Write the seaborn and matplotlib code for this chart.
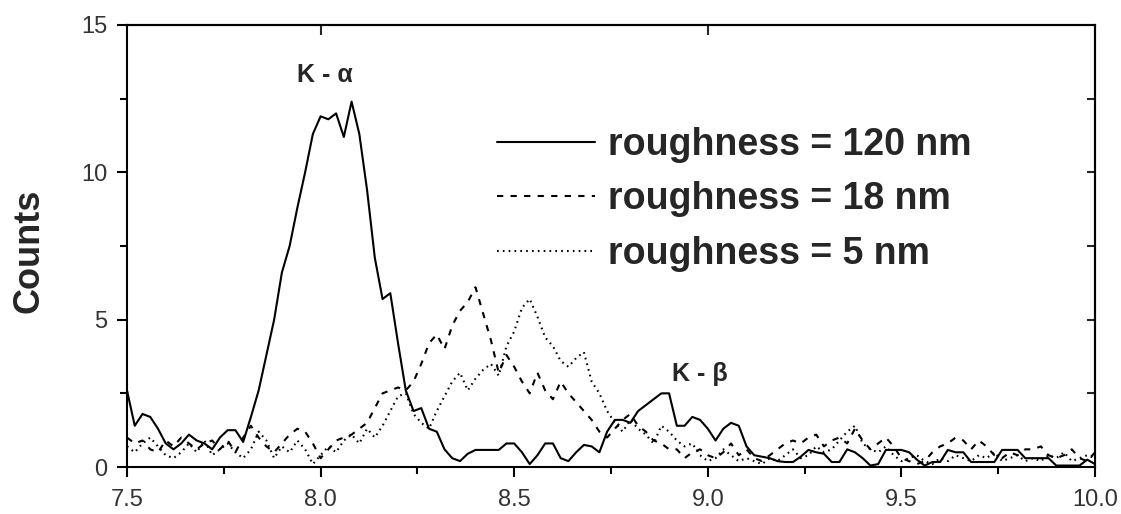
import numpy as np
import pandas as pd
import matplotlib
matplotlib.use("Agg")
import matplotlib.pyplot as plt
import seaborn as sns

# channel energies (keV), one sample every 0.02 from 7.5 to 10.0
energy = np.round(np.linspace(7.5, 10.0, 126), 2)

labels = ["roughness = 120 nm", "roughness = 18 nm", "roughness = 5 nm"]

counts_120nm = [
    2.6, 1.4, 1.8, 1.7, 1.3, 0.8, 0.6, 0.8, 1.1, 0.9,
    0.8, 0.6, 1.0, 1.25, 1.25, 0.85, 1.7, 2.6, 3.8, 5.0,
    6.6, 7.5, 8.8, 10.0, 11.3, 11.9, 11.8, 12.0, 11.2, 12.4,
    11.3, 9.4, 7.1, 5.7, 5.9, 4.2, 2.6, 1.9, 2.0, 1.3,
    1.2, 0.6, 0.3, 0.2, 0.45, 0.58, 0.58, 0.58, 0.58, 0.8,
    0.8, 0.5, 0.1, 0.4, 0.8, 0.8, 0.3, 0.2, 0.5, 0.75,
    0.7, 0.5, 1.2, 1.6, 1.6, 1.5, 1.9, 2.1, 2.3, 2.5,
    2.5, 1.4, 1.4, 1.7, 1.6, 1.3, 0.9, 1.3, 1.5, 1.4,
    0.7, 0.4, 0.35, 0.3, 0.2, 0.17, 0.17, 0.35, 0.58, 0.5,
    0.45, 0.17, 0.17, 0.6, 0.5, 0.3, 0.05, 0.1, 0.58, 0.58,
    0.58, 0.5, 0.25, 0.05, 0.17, 0.17, 0.58, 0.5, 0.5, 0.17,
    0.17, 0.17, 0.17, 0.58, 0.58, 0.58, 0.3, 0.3, 0.3, 0.3,
    0.05, 0.05, 0.05, 0.05, 0.25, 0.1,
]

counts_18nm = [
    1.0, 0.8, 0.9, 0.6, 0.5, 0.9, 0.7, 1.0, 0.8, 0.6,
    0.8, 0.9, 0.6, 0.9, 0.5, 1.0, 1.4, 1.0, 0.7, 0.5,
    0.8, 1.1, 1.3, 1.2, 0.8, 0.3, 0.6, 0.9, 1.0, 1.1,
    1.3, 1.5, 2.0, 2.5, 2.6, 2.7, 2.6, 2.9, 3.5, 4.2,
    4.5, 4.0, 4.8, 5.3, 5.6, 6.1, 5.2, 4.3, 3.2, 3.8,
    3.4, 2.9, 2.5, 3.2, 2.6, 2.3, 2.9, 2.5, 2.2, 1.9,
    1.6, 1.2, 1.0, 1.3, 1.6, 1.8, 1.4, 1.2, 0.9, 0.8,
    0.6, 0.6, 0.3, 0.5, 0.6, 0.4, 0.3, 0.5, 0.8, 0.4,
    0.6, 0.3, 0.2, 0.4, 0.6, 0.8, 0.9, 0.8, 1.0, 1.1,
    0.7, 0.9, 1.0, 0.8, 1.3, 0.9, 0.6, 0.8, 1.0, 0.7,
    0.3, 0.2, 0.1, 0.2, 0.5, 0.7, 0.8, 1.0, 0.9, 0.6,
    0.9, 0.7, 0.4, 0.3, 0.5, 0.4, 0.6, 0.6, 0.7, 0.4,
    0.3, 0.4, 0.6, 0.3, 0.2, 0.5,
]

counts_5nm = [
    0.7, 0.5, 0.8, 1.0, 0.7, 0.4, 0.3, 0.5, 0.8, 0.5,
    0.9, 0.4, 0.6, 0.8, 0.5, 0.3, 0.6, 1.2, 0.9, 0.3,
    0.7, 0.5, 0.9, 0.6, 0.1, 0.4, 0.7, 0.5, 0.9, 1.1,
    0.8, 1.3, 1.0, 1.4, 1.9, 2.4, 2.5, 1.8, 1.5, 1.3,
    1.9, 2.4, 2.9, 3.2, 2.6, 3.0, 3.3, 3.5, 3.1, 4.1,
    4.6, 5.4, 5.7, 5.1, 4.4, 4.1, 3.6, 3.4, 3.7, 3.9,
    2.9, 2.5, 1.9, 1.5, 1.2, 1.6, 1.3, 1.1, 0.8, 1.4,
    1.2, 0.9, 0.7, 0.8, 0.4, 0.2, 0.3, 0.6, 0.4, 0.2,
    0.3, 0.2, 0.1, 0.3, 0.2, 0.4, 0.6, 0.3, 0.4, 0.7,
    0.5, 0.6, 0.9, 1.2, 1.4, 0.8, 0.6, 0.5, 0.7, 0.4,
    0.2, 0.3, 0.4, 0.2, 0.1, 0.3, 0.2, 0.4, 0.3, 0.2,
    0.4, 0.3, 0.5, 0.2, 0.3, 0.4, 0.2, 0.3, 0.2, 0.4,
    0.3, 0.5, 0.2, 0.3, 0.4, 0.3,
]

x_ticks = [7.5, 8.0, 8.5, 9.0, 9.5, 10.0]
x_ticklabels = ["7.5", "8.0", "8.5", "9.0", "9.5", "10.0"]
y_ticks = [0, 5, 10, 15]
y_ticklabels = ["0", "5", "10", "15"]

sns.set_theme(style="ticks")
plt.rcParams["font.family"] = ["Liberation Sans", "DejaVu Sans"]

df = pd.concat([
    pd.DataFrame({"energy": energy, "counts": vals, "series": lab})
    for lab, vals in zip(labels, [counts_120nm, counts_18nm, counts_5nm])
])

fig = plt.figure(figsize=(11.21, 5.14), dpi=100)
ax = fig.add_axes([0.1133, 0.0914, 0.8635, 0.86])

dash_map = {labels[0]: "", labels[1]: (3, 3.5), labels[2]: (0.8, 2)}
sns.lineplot(data=df, x="energy", y="counts", style="series",
             style_order=labels, dashes=dash_map, color="black",
             linewidth=1.5, estimator=None, ax=ax)

ax.set_xlim(7.5, 10.0)
ax.set_ylim(0, 15)
ax.set_xticks(x_ticks)
ax.set_xticklabels(x_ticklabels)
ax.set_yticks(y_ticks)
ax.set_yticklabels(y_ticklabels)
ax.set_xticks([7.75, 8.25, 8.75, 9.25, 9.75], minor=True)
ax.set_yticks([2.5, 7.5, 12.5], minor=True)
ax.tick_params(which="major", direction="out", length=7, width=1.5,
               labelsize=17, labelcolor="#333333", color="black")
ax.tick_params(which="minor", direction="out", length=5, width=1.5,
               color="black")
ax.tick_params(axis="x", which="major", pad=9)
ax.tick_params(axis="y", which="major", pad=7)
for sp in ax.spines.values():
    sp.set_linewidth(1.5)
    sp.set_color("black")

# inward ticks on the top and right frame, no labels
top = ax.secondary_xaxis("top")
top.set_xticks([8.0, 9.0])
top.tick_params(direction="in", length=7, width=1.5, labeltop=False)
top.spines["top"].set_linewidth(1.5)
right = ax.secondary_yaxis("right")
right.set_yticks([2.5, 5, 7.5, 10, 12.5])
right.tick_params(direction="in", length=6, width=1.5, labelright=False)
right.spines["right"].set_linewidth(1.5)

ax.set_xlabel("")
ax.set_ylabel("Counts", fontsize=26, fontweight="bold")
ax.yaxis.set_label_coords(-0.083, 0.49)

ax.text(8.01, 13.3, "K - α", ha="center", va="center",
        fontsize=18, fontweight="bold")
ax.text(8.98, 3.15, "K - β", ha="center", va="center",
        fontsize=18, fontweight="bold")

sns.move_legend(ax, loc="center left", bbox_to_anchor=(0.4434, 0.612),
                bbox_transform=fig.transFigure, title=None, frameon=False,
                prop={"weight": "bold", "size": 27}, handlelength=2.6,
                handletextpad=0.35, labelspacing=0.5, borderpad=0,
                borderaxespad=0)
for h in ax.get_legend().get_lines():
    h.set_linewidth(1.5)

fig.savefig("out.png", dpi=100)
